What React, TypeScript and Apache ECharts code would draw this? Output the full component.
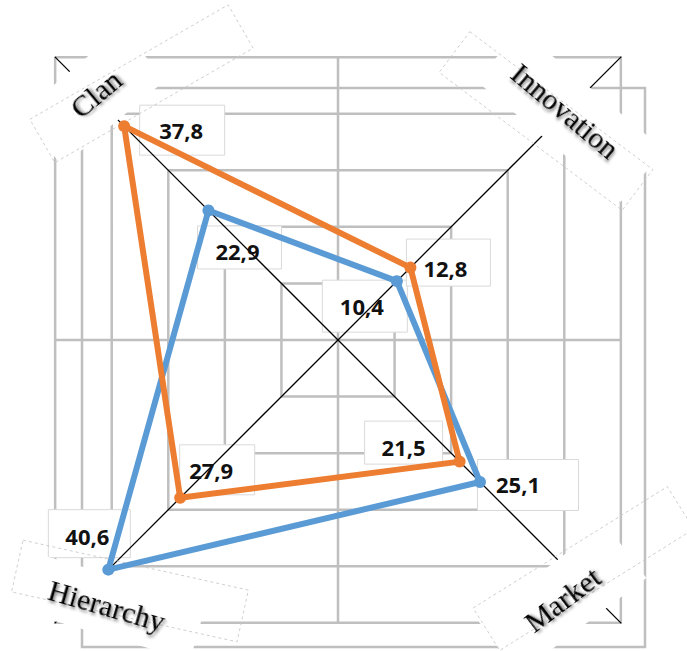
import React, { useEffect, useRef } from "react";
import * as echarts from "echarts";

// ---- data ----
const indicatorNames = ["Clan", "Hierarchy", "Market", "Innovation"];
const orangeValues = [37.8, 27.9, 21.5, 12.8];
const blueValues = [22.9, 40.6, 25.1, 10.4];
const axisMax = 50;
const splitCount = 5;

const ORANGE = "#ED7D31";
const BLUE = "#5B9BD5";
const GRID = "#bfbfbf";

const fmt = (v: number) => v.toFixed(1).replace(".", ",");

// label placement styles (offset from point to text centre; box relative to text centre)
const orangeLabelStyle = [
  { dx: 57, dy: 4, bx: 1, by: 0, bw: 85, bh: 50 },
  { dx: 31, dy: -28, bx: 6, by: 0, bw: 75, bh: 50 },
  { dx: -56, dy: -15, bx: 0, by: -4, bw: 78, bh: 43 },
  { dx: 35, dy: 0, bx: 3, by: -5, bw: 84, bh: 47 },
];
const blueLabelStyle = [
  { dx: 29, dy: 41, bx: 2, by: -4, bw: 84, bh: 43 },
  { dx: -21, dy: -34, bx: 2, by: -2, bw: 82, bh: 48 },
  { dx: 38, dy: 2, bx: 10, by: 1, bw: 101, bh: 51 },
  { dx: -35, dy: 25, bx: 3, by: 0, bw: 85, bh: 52 },
];

// axis-name decoration (text centre, rotation deg ccw, cover, dashed frame)
const nameDecor: Record<string, any> = {
  Clan: { tx: 96, ty: 94, rot: 40, shift: -5, hl: 67, hh: 34, fx: 141.5, fy: 83.75, fw: 229, fh: 50, frot: 30 },
  Innovation: { tx: 565, ty: 111, rot: -40, shift: 7, hl: 94, hh: 34, fx: 546, fy: 121, fw: 229, fh: 51, frot: -37 },
  Market: { tx: 562, ty: 599, rot: 37, shift: 0, hl: 80, hh: 34, fx: 583.5, fy: 568.5, fw: 229, fh: 50, frot: 32 },
  Hierarchy: { tx: 107, ty: 605, rot: -16, shift: 0, hl: 95, hh: 30, fx: 130, fy: 591, fw: 231, fh: 53, frot: -12.5 },
};

const CENTER = [338, 340];
const RADIUS = 400;

export default function App() {
  const ref = useRef<HTMLDivElement>(null);
  useEffect(() => {
    if (!ref.current) return;
    const chart = echarts.init(ref.current, null, { renderer: "svg" });
    const indicator = indicatorNames.map((n) => ({ name: n, min: 0, max: axisMax }));
    const radarBase = {
      center: CENTER,
      radius: RADIUS,
      startAngle: 135,
      shape: "polygon",
      splitNumber: splitCount,
      indicator,
      axisName: { show: false },
      axisTick: { show: false },
      axisLabel: { show: false },
      splitArea: { show: false },
    };
    chart.setOption({
      animation: false,
      radar: [
        {
          ...radarBase,
          z: 0,
          axisLine: { show: false },
          splitLine: { show: true, lineStyle: { color: GRID, width: 2.5 } },
        },
        {
          ...radarBase,
          z: 2,
          axisLine: { show: true, lineStyle: { color: "#000", width: 1.3 } },
          splitLine: { show: false },
        },
      ],
      series: [
        {
          type: "radar",
          radarIndex: 0,
          z: 3,
          symbol: "circle",
          symbolSize: 12,
          data: [
            {
              name: "Blue",
              value: blueValues,
              lineStyle: { color: BLUE, width: 6, join: "round" },
              itemStyle: { color: BLUE },
            },
            {
              name: "Orange",
              value: orangeValues,
              lineStyle: { color: ORANGE, width: 6, join: "round" },
              itemStyle: { color: ORANGE },
            },
          ],
        },
      ],
    });

    let toPoint: (v: number, i: number) => number[];
    try {
      const coord = (chart as any).getModel().getComponent("radar", 0).coordinateSystem;
      coord.dataToPoint(1, 0);
      toPoint = (v, i) => coord.dataToPoint(v, i);
    } catch (e) {
      toPoint = (v, i) => {
        const ang = ((135 + i * 90) * Math.PI) / 180;
        const r = (v / axisMax) * RADIUS;
        return [CENTER[0] + r * Math.cos(ang), CENTER[1] - r * Math.sin(ang)];
      };
    }

    const graphics: any[] = [];
    // extra background lines
    const half = RADIUS / Math.SQRT2;
    graphics.push({
      type: "line", z: 0,
      shape: { x1: CENTER[0], y1: CENTER[1] - half, x2: CENTER[0], y2: CENTER[1] + half },
      style: { stroke: GRID, lineWidth: 2.5 },
    });
    graphics.push({
      type: "line", z: 0,
      shape: { x1: CENTER[0] - half, y1: CENTER[1], x2: CENTER[0] + half, y2: CENTER[1] },
      style: { stroke: GRID, lineWidth: 2.5 },
    });
    graphics.push({
      type: "rect", z: 0,
      shape: { x: 82, y: 88, width: 563, height: 559 },
      style: { stroke: GRID, lineWidth: 2.5, fill: "none" },
    });

    // data labels
    const addLabels = (vals: number[], styles: any[]) => {
      vals.forEach((v, i) => {
        const p = toPoint(v, i);
        const s = styles[i];
        const tx = p[0] + s.dx;
        const ty = p[1] + s.dy;
        graphics.push({
          type: "rect", z: 1,
          shape: { x: tx + s.bx - s.bw / 2, y: ty + s.by - s.bh / 2, width: s.bw, height: s.bh },
          style: { fill: "#fff", stroke: "#d9d9d9", lineWidth: 1 },
        });
        graphics.push({
          type: "text", z: 6, x: tx, y: ty,
          style: {
            text: fmt(v),
            font: "bold 22px 'Open Sans', sans-serif",
            fill: "#111",
            align: "center",
            verticalAlign: "middle",
          },
        });
      });
    };
    addLabels(blueValues, blueLabelStyle);
    addLabels(orangeValues, orangeLabelStyle);

    // axis names
    indicatorNames.forEach((n) => {
      const d = nameDecor[n];
      const rad = (d.rot * Math.PI) / 180;
      graphics.push({
        type: "group", z: 2.5, x: d.tx, y: d.ty, rotation: rad,
        children: [
          {
            type: "rect", z: 2.5,
            shape: { x: -d.hl + d.shift, y: -d.hh, width: d.hl * 2, height: d.hh * 2 },
            style: { fill: "#fff" },
          },
          {
            type: "text", z: 2.6, x: 0, y: 0,
            style: {
              text: n,
              font: "30px 'Liberation Serif', 'Times New Roman', serif",
              fill: "#000",
              align: "center",
              verticalAlign: "middle",
              textShadowColor: "rgba(0,0,0,0.5)",
              textShadowBlur: 3,
              textShadowOffsetX: 2,
              textShadowOffsetY: 2,
            },
          },
        ],
      });
      graphics.push({
        type: "rect", z: 2.55, x: d.fx, y: d.fy, rotation: (d.frot * Math.PI) / 180,
        shape: { x: -d.fw / 2, y: -d.fh / 2, width: d.fw, height: d.fh },
        style: { fill: "none", stroke: "#c8c8c8", lineWidth: 0.8, lineDash: [3, 3] },
      });
    });

    chart.setOption({ graphic: { elements: graphics } });
    return () => chart.dispose();
  }, []);
  return (
    <div
      ref={ref}
      style={{ position: "fixed", left: 0, top: 0, width: 687, height: 651, background: "#fff" }}
    />
  );
}
